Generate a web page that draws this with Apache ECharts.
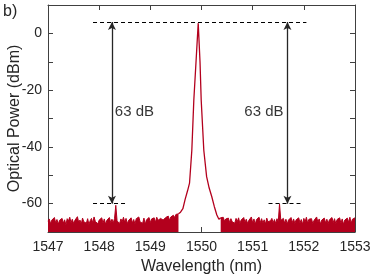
<!DOCTYPE html>
<html>
<head>
<meta charset="utf-8">
<script src="https://cdn.jsdelivr.net/npm/echarts@6/dist/echarts.min.js"></script>
<style>html,body{margin:0;padding:0;background:#fff}#c{width:374px;height:280px}</style>
</head>
<body>
<div id="c"></div>
<script>
// ---- data ----
var leftStart = 1547.0, rightStart = 1550.375, gridStep = 0.025;
var leftNoise = [
-66.2,-65.4,-67.1,-65.8,-66.5,-64.9,-66.8,-65.6,-67.3,-65.9,
-66.4,-65.2,-66.9,-65.7,-67.5,-65.3,-66.1,-64.8,-66.7,-65.5,
-67.0,-65.9,-66.3,-64.6,-66.6,-65.8,-67.2,-65.1,-66.4,-65.7,
-66.9,-65.3,-67.4,-66.0,-65.2,-66.8,-64.7,-66.3,-65.6,-67.1,
-65.8,-66.5,-65.0,-66.9,-65.4,-67.3,-65.9,-66.2,-64.9,-66.7,
-65.5,-66.8,-65.3,-60.6,-66.1,-65.7,-67.0,-65.4,-66.3,-64.8,
-66.6,-65.2,-67.1,-65.9,-66.4,-65.0,-66.8,-65.6,-67.2,-65.3,
-66.0,-64.7,-66.5,-65.8,-66.9,-65.1,-67.3,-65.7,-66.2,-64.9,
-66.7,-65.4,-66.1,-65.0,-66.6,-64.8,-65.9,-66.4,-65.2,-64.6,
-65.8,-66.3,-64.9,-65.5,-64.4,-65.9,-64.7,-65.2,-64.1,-64.9,
-63.8,-64.5,-63.6
];
var rightNoise = [
-65.0,-65.6,-64.8,-66.2,-65.4,-66.0,-65.1,-66.7,-65.3,-66.4,
-65.7,-66.9,-65.2,-66.3,-65.0,-67.1,-65.8,-66.5,-64.9,-66.6,
-65.5,-67.0,-65.9,-66.2,-64.7,-66.8,-65.4,-67.3,-65.6,-66.1,
-64.8,-66.7,-65.3,-66.9,-65.7,-67.2,-65.1,-66.4,-65.8,-66.0,
-65.2,-66.8,-65.6,-67.0,-65.3,-66.5,-60.1,-65.9,-66.6,-65.2,
-66.9,-65.5,-67.2,-65.8,-66.3,-64.9,-66.7,-65.4,-67.0,-65.7,
-66.2,-65.0,-66.8,-65.6,-67.3,-65.2,-66.4,-64.8,-66.9,-65.5,
-66.1,-65.3,-67.1,-65.9,-66.5,-64.7,-66.6,-65.4,-67.2,-65.8,
-66.0,-65.1,-66.8,-65.5,-67.0,-65.7,-66.3,-64.9,-66.7,-65.3,
-67.1,-65.6,-66.2,-65.0,-66.9,-65.4,-67.3,-65.8,-66.4,-65.1,
-66.6,-64.8,-66.9,-65.5,-66.2,-65.0
];
var peakWl  = [1549.55,1549.59,1549.636,1549.68,1549.73,1549.766,1549.811,1549.85,1549.893,1549.936,1549.971,1549.994,1550.045,1550.10,1550.15,1550.20,1550.25,1550.30,1550.34,1550.375];
var peakDbm = [-63.6,-63.0,-61.8,-58.5,-55.3,-52.8,-41.2,-23.5,-10.0,3.6,-10.0,-23.5,-41.2,-50.5,-54.5,-57.5,-61.0,-64.0,-65.5,-65.0];
var refTopLevel = 4, refSideLevel = -60;
var dashTop = [1547.88, 1552.05];
var dashLeft = [1547.88, 1548.54];
var dashRight = [1551.31, 1551.97];
var arrowX = [1548.25, 1551.68];
var annotX = [1548.69, 1551.22], annotY = -27.7, annotText = '63 dB';
var xTicks = [1547, 1553, 1], yTicks = [-70, 10, 10];

function grid(start, vals) { return vals.map(function (v, i) { return [+(start + i * gridStep).toFixed(4), v]; }); }

var FONT = '"Liberation Sans", Arial, Helvetica, sans-serif';
var AX = '#404040', TXT = '#262626', RED = '#b3001d';
var chart = echarts.init(document.getElementById('c'), null, { renderer: 'canvas' });
var axLine = { show: true, onZero: false, lineStyle: { color: AX, width: 1 } };
var tick = { show: true, inside: true, length: 5, lineStyle: { color: AX, width: 1 } };

chart.setOption({
  animation: false,
  backgroundColor: '#fff',
  grid: { left: 48, right: 19, top: 5, bottom: 48, containLabel: false, outerBoundsMode: 'none' },
  graphic: [{ type: 'text', left: 3, top: 4, style: { text: 'b)', font: '16px ' + FONT, fill: TXT } }],
  xAxis: [{
    type: 'value', min: xTicks[0], max: xTicks[1], interval: xTicks[2],
    axisLine: axLine, axisTick: tick, splitLine: { show: false },
    axisLabel: { fontSize: 14, fontFamily: FONT, color: TXT, margin: 8, formatter: function (v) { return String(v); } },
    name: 'Wavelength (nm)', nameLocation: 'middle', nameGap: 26,
    nameTextStyle: { fontSize: 16, fontFamily: FONT, color: TXT }
  }, {
    type: 'value', position: 'top', min: xTicks[0], max: xTicks[1], interval: xTicks[2],
    axisLine: axLine, axisTick: tick, splitLine: { show: false }, axisLabel: { show: false }
  }],
  yAxis: [{
    type: 'value', min: yTicks[0], max: yTicks[1], interval: yTicks[2],
    axisLine: axLine, axisTick: tick, splitLine: { show: false },
    axisLabel: { fontSize: 14, fontFamily: FONT, color: TXT, margin: 6,
      formatter: function (v) { return (v % 20 === 0) ? String(v) : ''; } },
    name: 'Optical Power (dBm)', nameLocation: 'middle', nameGap: 25, nameMoveOverlap: false,
    nameTextStyle: { fontSize: 16, fontFamily: FONT, color: TXT }
  }, {
    type: 'value', position: 'right', min: yTicks[0], max: yTicks[1], interval: yTicks[2],
    axisLine: axLine, axisTick: tick, splitLine: { show: false }, axisLabel: { show: false }
  }],
  series: [{
    type: 'line', data: grid(leftStart, leftNoise), symbol: 'none',
    lineStyle: { color: RED, width: 1 }, areaStyle: { color: RED, opacity: 1, origin: 'start' },
    markLine: {
      silent: true, symbol: 'none', label: { show: false },
      lineStyle: { color: '#000', type: [4, 3], width: 1 },
      data: [
        [{ coord: [dashTop[0], refTopLevel] }, { coord: [dashTop[1], refTopLevel] }],
        [{ coord: [dashLeft[0], refSideLevel] }, { coord: [dashLeft[1], refSideLevel] }],
        [{ coord: [dashRight[0], refSideLevel] }, { coord: [dashRight[1], refSideLevel] }]
      ]
    }
  }, {
    type: 'line', data: grid(rightStart, rightNoise), symbol: 'none',
    lineStyle: { color: RED, width: 1 }, areaStyle: { color: RED, opacity: 1, origin: 'start' },
    markLine: {
      silent: true, symbol: ['arrow', 'arrow'], symbolSize: [6, 8], label: { show: false },
      lineStyle: { color: '#262626', type: 'solid', width: 1.3 },
      data: [
        [{ coord: [arrowX[0], refTopLevel] }, { coord: [arrowX[0], refSideLevel] }],
        [{ coord: [arrowX[1], refTopLevel] }, { coord: [arrowX[1], refSideLevel] }]
      ]
    }
  }, {
    type: 'line', data: peakWl.map(function (w, i) { return [w, peakDbm[i]]; }), symbol: 'none',
    lineStyle: { color: RED, width: 1.3 }
  }, {
    type: 'scatter', symbolSize: 0, silent: true,
    data: annotX.map(function (x) { return [x, annotY]; }),
    label: { show: true, position: 'inside', formatter: annotText, fontSize: 15, fontFamily: FONT, color: '#000' }
  }]
});
</script>
</body>
</html>
